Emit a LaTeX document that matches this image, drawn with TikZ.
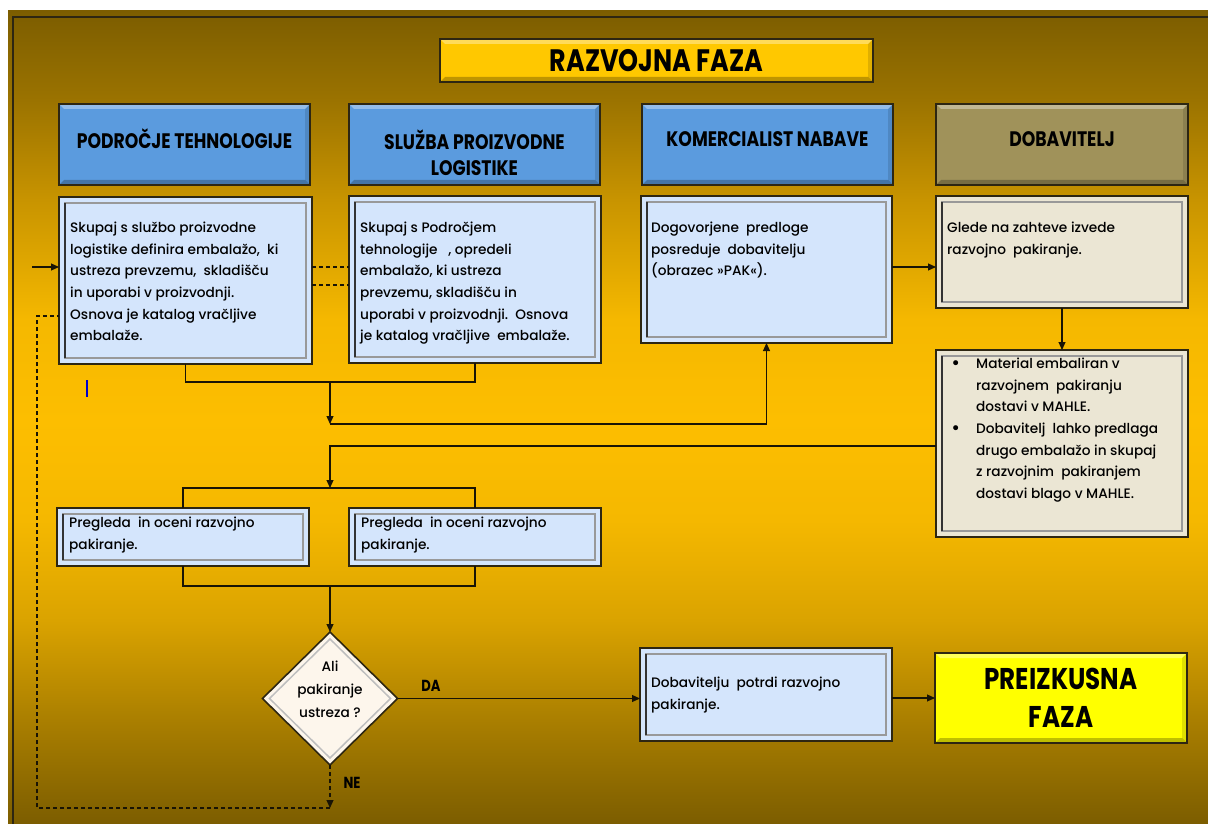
\documentclass[tikz,border=0pt]{standalone}
\usepackage{fontspec}
\setmainfont{Poppins}
\newfontfamily\hdrfont[FakeStretch=0.82]{Poppins}
\newfontfamily\bodyfont{Poppins Medium}
\usetikzlibrary{shapes.geometric,arrows.meta}

\definecolor{bgdark}{RGB}{124,93,0}
\definecolor{bggold}{RGB}{252,190,0}
\definecolor{hdrblue}{RGB}{91,155,222}
\definecolor{hdrolive}{RGB}{160,146,90}
\definecolor{boxblue}{RGB}{212,229,252}
\definecolor{boxbeige}{RGB}{235,230,212}
\definecolor{titlegold}{RGB}{255,200,0}
\definecolor{brightyellow}{RGB}{255,255,0}
\definecolor{edge}{RGB}{45,38,18}
\definecolor{diamondfill}{RGB}{253,246,236}
\definecolor{lnclr}{RGB}{25,20,5}

\pgfdeclareverticalshading{bgshade}{100bp}{%
  color(0bp)=(bgdark); color(25bp)=(bgdark);
  rgb(31.4bp)=(0.667,0.498,0); rgb(37.5bp)=(0.855,0.639,0);
  rgb(43.7bp)=(0.961,0.722,0); rgb(49.8bp)=(0.992,0.745,0);
  rgb(56bp)=(0.961,0.722,0); rgb(63.4bp)=(0.784,0.58,0);
  rgb(69.5bp)=(0.608,0.451,0); color(75bp)=(bgdark); color(100bp)=(bgdark)}

\tikzset{
  base/.style={draw=edge, line width=1.6pt, inner sep=0pt, outer sep=0pt},
  raised/.style={base, path picture={
      \fill[white,opacity=.35] (path picture bounding box.north west) -- (path picture bounding box.north east)
        -- ([shift={(-5pt,-5pt)}]path picture bounding box.north east) -- ([shift={(5pt,-5pt)}]path picture bounding box.north west) -- cycle;
      \fill[black,opacity=.25] (path picture bounding box.south west) -- (path picture bounding box.south east)
        -- ([shift={(-5pt,5pt)}]path picture bounding box.south east) -- ([shift={(5pt,5pt)}]path picture bounding box.south west) -- cycle;
      \fill[black,opacity=.12] (path picture bounding box.north east) -- (path picture bounding box.south east)
        -- ([shift={(-5pt,5pt)}]path picture bounding box.south east) -- ([shift={(-5pt,-5pt)}]path picture bounding box.north east) -- cycle;
  }},
  hdrbox/.style={raised, fill=hdrblue, minimum width=251pt, minimum height=81pt},
  framed/.style={base, path picture={
      \draw[black!40, line width=1.3pt] ([shift={(6pt,-6pt)}]path picture bounding box.north west) rectangle ([shift={(-6pt,6pt)}]path picture bounding box.south east);
      \draw[black!80, line width=1.8pt] ([shift={(6pt,-6pt)}]path picture bounding box.north west) -- ([shift={(6pt,6pt)}]path picture bounding box.south west);
  }},
  bluebox/.style={framed, fill=boxblue},
  beigebox/.style={framed, fill=boxbeige},
  hdrtxt/.style={inner sep=0pt, align=center, font=\hdrfont\bfseries\fontsize{21}{26}\selectfont},
  bodytxt/.style={anchor=north west, inner sep=0pt, align=left, font=\bodyfont\fontsize{13.7}{21.6}\selectfont},
  ln/.style={draw=lnclr, line width=1.1pt},
  arr/.style={ln, -{Triangle[length=8pt,width=7pt]}},
  dsh/.style={ln, dash pattern=on 4pt off 3pt},
  lbl/.style={inner sep=0pt, font=\hdrfont\bfseries\fontsize{16}{18}\selectfont}
}
\newcommand{\bul}{\llap{\raisebox{-0.5pt}{\fontsize{19}{19}\selectfont\textbullet}\hspace{16pt}}}

\begin{document}
\begin{tikzpicture}[x=1pt,y=-1pt]
\useasboundingbox (0,0) rectangle (1208,824);
\fill[white] (0,0) rectangle (1208,824);
\shade[shading=bgshade] (8,11) rectangle (1208,824);
\draw[edge, line width=1.2pt] (13,17) rectangle (1216,832);

% title
\node[raised, fill=titlegold, minimum width=433pt, minimum height=43pt] (title) at (656.5,60.5) {};
\node[inner sep=0pt, font=\hdrfont\bfseries\fontsize{31}{34}\selectfont] (titletxt) at (656.5,61) {RAZVOJNA FAZA};

% header boxes
\node[hdrbox] (h1) at (184.5,144.5) {};
\node[hdrbox] (h2) at (474.5,144.5) {};
\node[hdrbox] (h3) at (767.5,144.5) {};
\node[hdrbox, fill=hdrolive, minimum width=252pt] (h4) at (1062,144.5) {};
\node[hdrtxt] (h1t) at (184.5,139) {PODROČJE TEHNOLOGIJE};
\node[hdrtxt] (h2t) at (474.5,153) {SLUŽBA PROIZVODNE\\LOGISTIKE};
\node[hdrtxt] (h3t) at (767.5,139) {KOMERCIALIST NABAVE};
\node[hdrtxt] (h4t) at (1062,139) {DOBAVITELJ};

% content boxes
\node[bluebox, minimum width=253pt, minimum height=167pt] (c1) at (185.5,280.5) {};
\node[bluebox, minimum width=252pt, minimum height=167pt] (c2) at (475,279.5) {};
\node[bluebox, minimum width=251pt, minimum height=147pt] (c3) at (766.5,269.5) {};
\node[beigebox, minimum width=252pt, minimum height=112pt] (c4) at (1062,252) {};
\node[beigebox, minimum width=252pt, minimum height=187pt] (c5) at (1062,443.5) {};
\node[bluebox, minimum width=252pt, minimum height=58pt] (c6) at (183,537) {};
\node[bluebox, minimum width=252pt, minimum height=58pt] (c7) at (475,537) {};
\node[bluebox, minimum width=252pt, minimum height=93pt] (c8) at (766,694.5) {};
\node[raised, fill=brightyellow, minimum width=252pt, minimum height=90pt] (pf) at (1061,698) {};
\node[diamond, base, fill=diamondfill, minimum width=135pt, minimum height=133pt,
  path picture={\draw[black!25, line width=1.5pt] ([yshift=-7pt]path picture bounding box.north) -- ([xshift=-7pt]path picture bounding box.east)
     -- ([yshift=7pt]path picture bounding box.south) -- ([xshift=7pt]path picture bounding box.west) -- cycle;}] (dia) at (330,698.5) {};

% texts
\node[bodytxt] (c1t) at (70,222) {Skupaj s službo proizvodne\\logistike definira embalažo,\ \ ki\\ustreza prevzemu,\ \ skladišču\\in uporabi v proizvodnji.\\Osnova je katalog vračljive\\embalaže.};
\node[bodytxt] (c2t) at (360,222) {Skupaj s Področjem\\tehnologije\ \ \ , opredeli\\embalažo, ki ustreza\\prevzemu, skladišču in\\uporabi v proizvodnji.\ \ Osnova\\je katalog vračljive\ \ embalaže.};
\node[bodytxt] (c3t) at (651,222) {Dogovorjene\ \ predloge\\posreduje\ \ dobavitelju\\(obrazec »PAK«).};
\node[bodytxt] (c4t) at (947,222) {Glede na zahteve izvede\\razvojno\ \ pakiranje.};
\node[bodytxt] (c5t) at (976,358) {\bul Material embaliran v\\razvojnem\ \ pakiranju\\dostavi v MAHLE.\\\bul Dobavitelj\ \ lahko predlaga\\drugo embalažo in skupaj\\z razvojnim\ \ pakiranjem\\dostavi blago v MAHLE.};
\node[bodytxt] (c6t) at (69,517) {Pregleda\ \ in oceni razvojno\\pakiranje.};
\node[bodytxt] (c7t) at (361,517) {Pregleda\ \ in oceni razvojno\\pakiranje.};
\node[bodytxt] (c8t) at (651,677) {Dobavitelju\ \ potrdi razvojno\\pakiranje.};
\node[inner sep=0pt, align=center, font=\hdrfont\bfseries\fontsize{30}{38}\selectfont] (pft) at (1061,698) {PREIZKUSNA\\FAZA};
\node[inner sep=0pt, align=center, font=\bodyfont\fontsize{13.7}{23}\selectfont] (diat) at (330,689) {Ali\\pakiranje\\ustreza ?};

% coordinates
\coordinate (inL) at (32,267);
\coordinate (y267) at (0,267);
\coordinate (y285) at (0,285);
\coordinate (y316) at (0,316);
\coordinate (y446) at (0,446);
\coordinate (m1) at (330,382);
\coordinate (m2) at (330,424);
\coordinate (m3) at (330,488);
\coordinate (m4) at (330,586);
\coordinate (fbC) at (330,808);
\coordinate (fbL) at (37,808);
\coordinate (fbT) at (37,316);

% connectors
\draw[arr] (inL) -- (inL -| c1.west);
\draw[dsh] (c1.east |- y267) -- (c2.west |- y267);
\draw[dsh] (c1.east |- y285) -- (c2.west |- y285);
\draw[ln] (c1.south) |- (m1) -| (c2.south);
\draw[arr] (m1) -- (m2);
\draw[arr] (m2) -| (c3.south);
\draw[arr] (c3.east |- y267) -- (c4.west |- y267);
\draw[arr] (c4.south) -- (c5.north);
\draw[arr] (c5.west |- y446) -| (m3);
\draw[ln] (c6.north) |- (m3) -| (c7.north);
\draw[ln] (c6.south) |- (m4) -| (c7.south);
\draw[arr] (m4) -- (dia.north);
\draw[arr] (dia.east) -- (dia.east -| c8.west);
\draw[arr] (c8.east |- pf.west) -- (pf.west);
\draw[dsh, -{Triangle[length=8pt,width=7pt]}] (dia.south) -- (fbC);
\draw[dsh] (fbC) -- (fbL) -- (fbT) -- (c1.west |- fbT);
\node[lbl] (da) at (431,686) {DA};
\node[lbl] (ne) at (352,783) {NE};

% text cursor mark
\coordinate (cur1) at (87,380);
\coordinate (cur2) at (87,397);
\draw[blue!80!black, line width=1.5pt] (cur1) -- (cur2);
\end{tikzpicture}
\end{document}
